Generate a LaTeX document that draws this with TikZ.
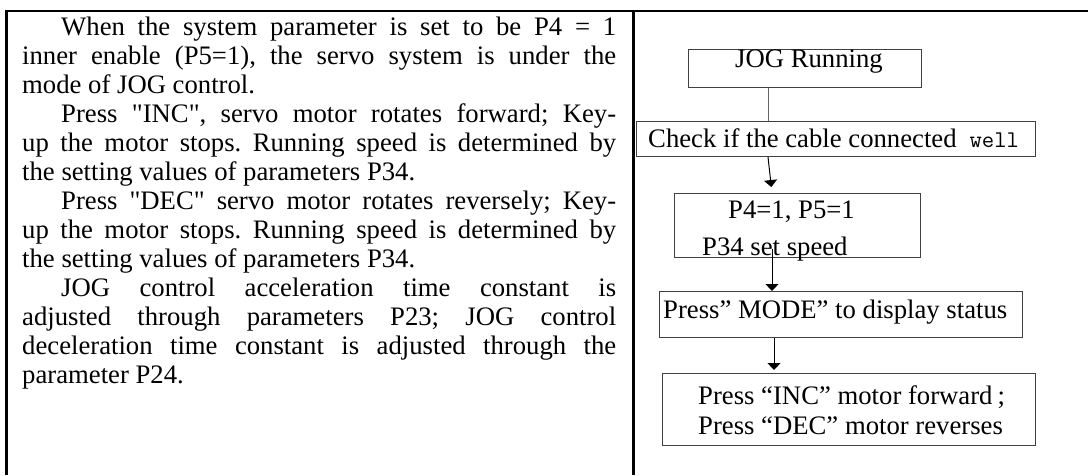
\documentclass[tikz,border=0pt]{standalone}
\usepackage{fontspec}
\setmainfont{Liberation Serif}
\newfontfamily\bodyfont{Liberation Serif}
\usetikzlibrary{arrows.meta}
\newcommand\bodysize{\bodyfont\fontsize{26.7}{29.08}\selectfont\frenchspacing}
\tikzset{
  frame/.style={line width=2.5pt, black, line join=miter},
  fbox/.style={draw=black!75, line width=1pt, inner sep=0pt, anchor=north west},
  ftext/.style={inner sep=0pt, anchor=base west, font=\bodysize},
  link/.style={draw=black!60, line width=1pt},
  arr/.style={draw=black, line width=1pt, -{Triangle[width=13pt,length=7pt]}}
}
\begin{document}
\begin{tikzpicture}[x=1pt, y=-1pt]
  \useasboundingbox (0,0) rectangle (1088,475);

  % table rules
  \draw[frame] (6.3,475) -- (6.3,11) -- (1088,11);
  \draw[frame] (633.5,11) -- (633.5,475);

  % description column
  \node[inner sep=0pt, anchor=base west] (body) at (22,35) {\parbox[t]{594pt}{\bodysize
    \tolerance=9999 \hyphenpenalty=10000
    \hspace*{39pt}When the system parameter is set to be P4 = 1\linebreak
    inner enable (P5=1), the servo system is under the\linebreak
    mode of JOG control.\par
    \hspace*{39pt}Press "INC", servo motor rotates forward; Key-\linebreak
    up the motor stops. Running speed is determined by\linebreak
    the setting values of parameters P34.\par
    \hspace*{39pt}Press "DEC" servo motor rotates reversely; Key-\linebreak
    up the motor stops. Running speed is determined by\linebreak
    the setting values of parameters P34.\par
    \hspace*{39pt}JOG control acceleration time constant is\linebreak
    adjusted through parameters P23; JOG control\linebreak
    deceleration time constant is adjusted through the\linebreak
    parameter P24.}};

  % flowchart boxes
  \node[fbox, minimum width=233pt, minimum height=38pt] (jog)   at (688,49)  {};
  \node[fbox, minimum width=399pt, minimum height=35pt] (check) at (636,121) {};
  \node[fbox, minimum width=246pt, minimum height=64pt] (p4)    at (674,193) {};
  \node[fbox, minimum width=363pt, minimum height=46pt] (mode)  at (659,291) {};
  \node[fbox, minimum width=373pt, minimum height=72pt] (inc)   at (662,373) {};

  % flowchart labels
  \node[ftext] (jogt)   at (735,67)  {JOG Running};
  \node[ftext] (checkt) at (648,147) {Check if the cable connected\hspace{13pt}{\ttfamily\fontsize{24}{24}\selectfont well}};
  \node[ftext] (p4a)    at (728,218) {P4=1, P5=1};
  \node[ftext] (p4b)    at (702,255) {P34 set speed};
  \node[ftext] (modet)  at (663,318) {Press” MODE” to display status};
  \node[ftext] (inca)   at (698,404) {Press “INC” motor forward\kern5pt;};
  \node[ftext] (incb)   at (698,434) {Press “DEC” motor reverses};

  % connector columns
  \coordinate (c1) at (768,0);
  \coordinate (c2) at (772,0);
  \coordinate (c3) at (774,0);

  % connectors
  \draw[link] (jog.south -| c1) -- (check.north -| c1);
  \draw[arr, shorten >=6pt] (check.south -| c1) -- (p4.north -| c2);
  \draw[arr, shorten <=-9pt] (p4.south -| c2) -- (mode.north -| c2);
  \draw[arr, shorten >=3pt] (mode.south -| c3) -- (inc.north -| c3);
\end{tikzpicture}
\end{document}
